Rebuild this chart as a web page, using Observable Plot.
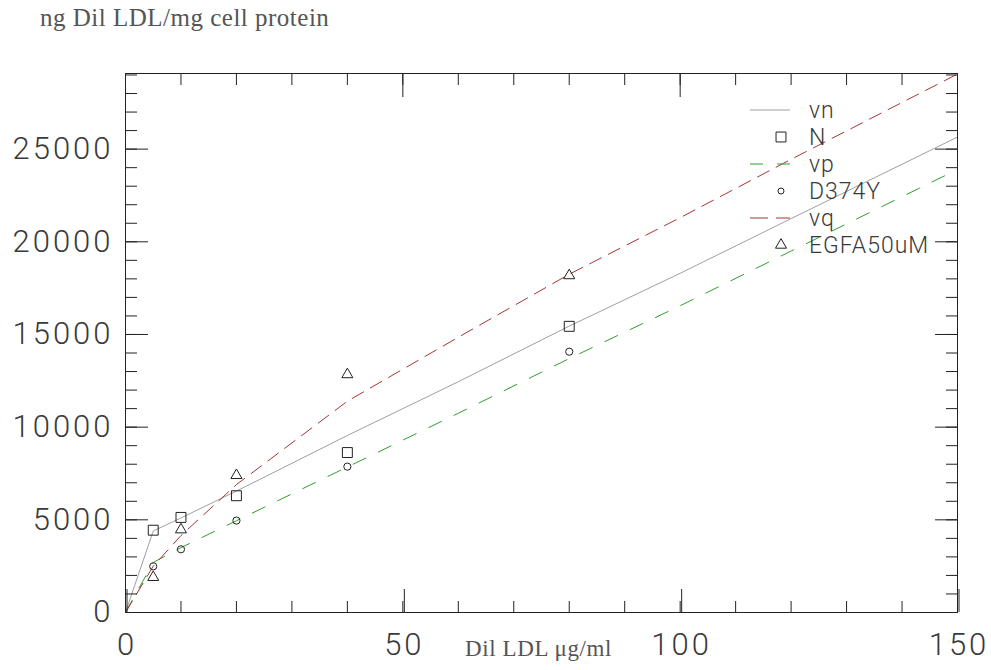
<!DOCTYPE html>
<html><head><meta charset="utf-8">
<script src="https://cdn.jsdelivr.net/npm/d3@7"></script>
<script src="https://cdn.jsdelivr.net/npm/@observablehq/plot@0.6"></script>
<style>
body{margin:0;background:#fff;}
#wrap{position:relative;width:991px;height:670px;overflow:hidden;}
#chart{position:absolute;left:0;top:0;}
#title{position:absolute;left:40px;top:4px;font-family:"Liberation Serif","Times New Roman",serif;font-size:25px;letter-spacing:0.5px;color:#555;white-space:nowrap;}
#xlabel{position:absolute;left:465px;top:636px;font-family:"Liberation Serif","Times New Roman",serif;font-size:23px;letter-spacing:0.6px;color:#555;white-space:nowrap;}
#legend{position:absolute;left:0;top:0;}
</style>
</head><body>
<div id="wrap">
<div id="chart"></div>
<div id="title">ng Dil LDL/mg cell protein</div>
<div id="xlabel">Dil LDL μg/ml</div>
<svg id="legend" width="991" height="300"></svg>
</div>
<script>
// ---- data ----
const doseX = [5, 10, 20, 40, 80];
const nValues = [4440, 5130, 6300, 8630, 15440];
const d374yValues = [2490, 3410, 4960, 7870, 14070];
const egfaValues = [1900, 4470, 7400, 12840, 18180];

const fitX = [0, 5, 10, 20, 40, 60, 80, 100, 120, 150];
const vnFit = [0, 4400, 5100, 6550, 9550, 12450, 15450, 18300, 21250, 25650];
const vpFit = [0, 2700, 3500, 4950, 7850, 10750, 13700, 16550, 19500, 23900];
const vqFit = [0, 2500, 4150, 6900, 11400, 14850, 18250, 21300, 24450, 29050];

const xDomain = [0, 150];
const yDomain = [0, 29080];
const xMajor = [0, 50, 100, 150];
const xMinor = d3.range(0, 151, 10);
const yMajor = [0, 5000, 10000, 15000, 20000, 25000];
const yMinor = d3.range(0, 29001, 1000);

const legendLabels = ["vn", "N", "vp", "D374Y", "vq", "EGFA50uM"];

// ---- styles ----
const cGray = "#a0a0a0", cGreen = "#2f9e2f", cRed = "#a83434", cMark = "#222";

const pts = (ys) => doseX.map((x, i) => ({x, y: ys[i]}));
const fit = (ys) => fitX.map((x, i) => ({x, y: ys[i]}));

const tickFont = {fontSize: 31, fontWeight: 300, fill: "#3a3a3a"};
const blank = () => "";

const plot = Plot.plot({
  width: 991, height: 670,
  marginLeft: 125, marginRight: 34, marginTop: 73, marginBottom: 58,
  style: {fontFamily: "Roboto, 'DejaVu Sans', sans-serif", background: "#fff", color: "#222", letterSpacing: "3px"},
  x: {domain: xDomain},
  y: {domain: yDomain},
  marks: [
    Plot.line(fit(vnFit), {x: "x", y: "y", stroke: cGray, strokeWidth: 1}),
    Plot.line(fit(vpFit), {x: "x", y: "y", stroke: cGreen, strokeWidth: 1, strokeDasharray: "14,14"}),
    Plot.line(fit(vqFit), {x: "x", y: "y", stroke: cRed, strokeWidth: 1, strokeDasharray: "13,8"}),
    Plot.dot(pts(nValues), {x: "x", y: "y", symbol: "square", r: 5.6, stroke: cMark, fill: "none", strokeWidth: 1}),
    Plot.dot(pts(d374yValues), {x: "x", y: "y", symbol: "circle", r: 3.6, stroke: cMark, fill: "none", strokeWidth: 1}),
    Plot.dot(pts(egfaValues), {x: "x", y: "y", symbol: "triangle", r: 4.1, stroke: cMark, fill: "none", strokeWidth: 1}),
    // left axis
    Plot.axisY({anchor: "left", ticks: yMajor, tickSize: -23, tickPadding: 35, label: null, tickFormat: d => String(d), ...tickFont}),
    Plot.axisY({anchor: "left", ticks: yMinor, tickSize: -12, label: null, tickFormat: blank}),
    // right axis
    Plot.axisY({anchor: "right", ticks: yMajor, tickSize: -23, label: null, tickFormat: blank}),
    Plot.axisY({anchor: "right", ticks: yMinor, tickSize: -12, label: null, tickFormat: blank}),
    // bottom axis
    Plot.axisX({anchor: "bottom", ticks: xMajor, tickSize: -23, tickPadding: 43, label: null, tickFormat: d => String(d), ...tickFont, dx: 1.5}),
    Plot.axisX({anchor: "bottom", ticks: xMinor, tickSize: -11, label: null, tickFormat: blank}),
    // top axis
    Plot.axisX({anchor: "top", ticks: xMajor, tickSize: -23, label: null, tickFormat: blank}),
    Plot.axisX({anchor: "top", ticks: xMinor, tickSize: -11, label: null, tickFormat: blank}),
    Plot.frame({stroke: "#222", strokeWidth: 1})
  ]
});
document.getElementById("chart").appendChild(plot);

// ---- legend (inside the plot, top right) ----
const lg = d3.select("#legend");
const kinds = [
  {type: "line", stroke: cGray, dash: null},
  {type: "sym", sym: d3.symbolSquare, size: Math.PI * 5.6 * 5.6},
  {type: "line", stroke: cGreen, dash: "13,14"},
  {type: "sym", sym: d3.symbolCircle, size: Math.PI * 3 * 3},
  {type: "line", stroke: cRed, dash: "18,8"},
  {type: "sym", sym: d3.symbolTriangle, size: Math.PI * 4.1 * 4.1}
];
const lx0 = 750, ly0 = 110, lstep = 27;
legendLabels.forEach((lab, i) => {
  const y = ly0 + i * lstep;
  const k = kinds[i];
  if (k.type === "line") {
    lg.append("line").attr("x1", lx0).attr("x2", lx0 + 40).attr("y1", y).attr("y2", y)
      .attr("stroke", k.stroke).attr("stroke-width", 1).attr("stroke-dasharray", k.dash);
  } else {
    lg.append("path").attr("d", d3.symbol(k.sym, k.size)()).attr("transform", `translate(${lx0 + 31},${y})`)
      .attr("fill", "none").attr("stroke", cMark).attr("stroke-width", 1);
  }
  lg.append("text").attr("x", 809).attr("y", y).attr("dy", "0.36em")
    .attr("font-family", "Roboto, 'DejaVu Sans', sans-serif").attr("font-weight", 300)
    .attr("font-size", 23).attr("letter-spacing", "1px").attr("fill", "#3a3a3a").text(lab);
});
</script>
</body></html>
